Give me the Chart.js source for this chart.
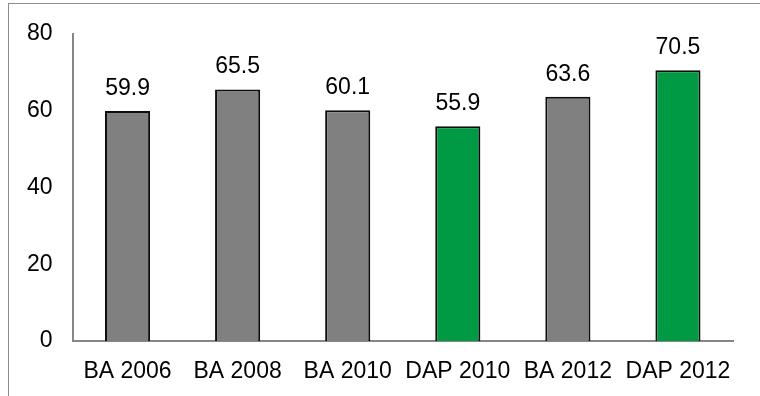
<!DOCTYPE html>
<html>
<head>
<meta charset="utf-8">
<script src="https://cdn.jsdelivr.net/npm/chart.js@4/dist/chart.umd.min.js"></script>
<style>
  html, body { margin: 0; padding: 0; background: #fff; overflow: hidden; }
  #wrap { position: relative; width: 760px; height: 396px; overflow: hidden; background: #fff; }
  #frameTop { position: absolute; left: 8px; top: 3px; width: 760px; height: 1px; background: #8c8c8c; }
  #frameLeft { position: absolute; left: 8px; top: 3px; width: 1px; height: 400px; background: #8c8c8c; }
  #c { position: absolute; left: 0; top: 0; width: 760px; height: 396px; }
</style>
</head>
<body>
<div id="wrap">
  <div id="frameTop"></div>
  <div id="frameLeft"></div>
  <canvas id="c" width="760" height="396"></canvas>
</div>
<script>
const categories = ["BA 2006", "BA 2008", "BA 2010", "DAP 2010", "BA 2012", "DAP 2012"];
const values = [59.9, 65.5, 60.1, 55.9, 63.6, 70.5];
const barColors = ["#808080", "#808080", "#808080", "#009944", "#808080", "#009944"];
const yTicks = [0, 20, 40, 60, 80];

const FONT = "'Liberation Sans', Arial, sans-serif";

const valueLabels = {
  id: 'valueLabels',
  afterDatasetsDraw(chart) {
    const ctx = chart.ctx;
    const meta = chart.getDatasetMeta(0);
    ctx.save();
    ctx.font = "23px " + FONT;
    ctx.fillStyle = "#000";
    ctx.textAlign = "center";
    ctx.textBaseline = "alphabetic";
    meta.data.forEach((bar, i) => {
      ctx.fillText(values[i].toFixed(1), bar.x, bar.y - 16);
    });
    ctx.restore();
  }
};

new Chart(document.getElementById('c'), {
  type: 'bar',
  data: {
    labels: categories,
    datasets: [{
      data: values,
      backgroundColor: barColors,
      borderColor: "#0d0d0d",
      borderWidth: 2,
      borderSkipped: 'bottom',
      categoryPercentage: 1.0,
      barPercentage: 0.41
    }]
  },
  options: {
    responsive: false,
    devicePixelRatio: 1,
    animation: false,
    layout: { padding: { left: 0, right: 27, top: 32, bottom: 0 } },
    plugins: { legend: { display: false }, tooltip: { enabled: false }, title: { display: false } },
    scales: {
      x: {
        grid: { display: false, drawTicks: false },
        border: { display: true, color: "#868686", width: 2 },
        ticks: { color: "#000", font: { family: FONT, size: 23 }, padding: 17, autoSkip: false, maxRotation: 0 },
        afterFit(axis) { axis.height = 55; }
      },
      y: {
        min: 0, max: 80,
        grid: { display: false, drawTicks: false },
        border: { display: true, color: "#868686", width: 2 },
        afterBuildTicks(axis) { axis.ticks = yTicks.map(v => ({ value: v })); },
        ticks: { color: "#000", font: { family: FONT, size: 23 }, padding: 20 },
        afterFit(axis) { axis.width = 72.5; }
      }
    }
  },
  plugins: [valueLabels]
});
</script>
</body>
</html>
